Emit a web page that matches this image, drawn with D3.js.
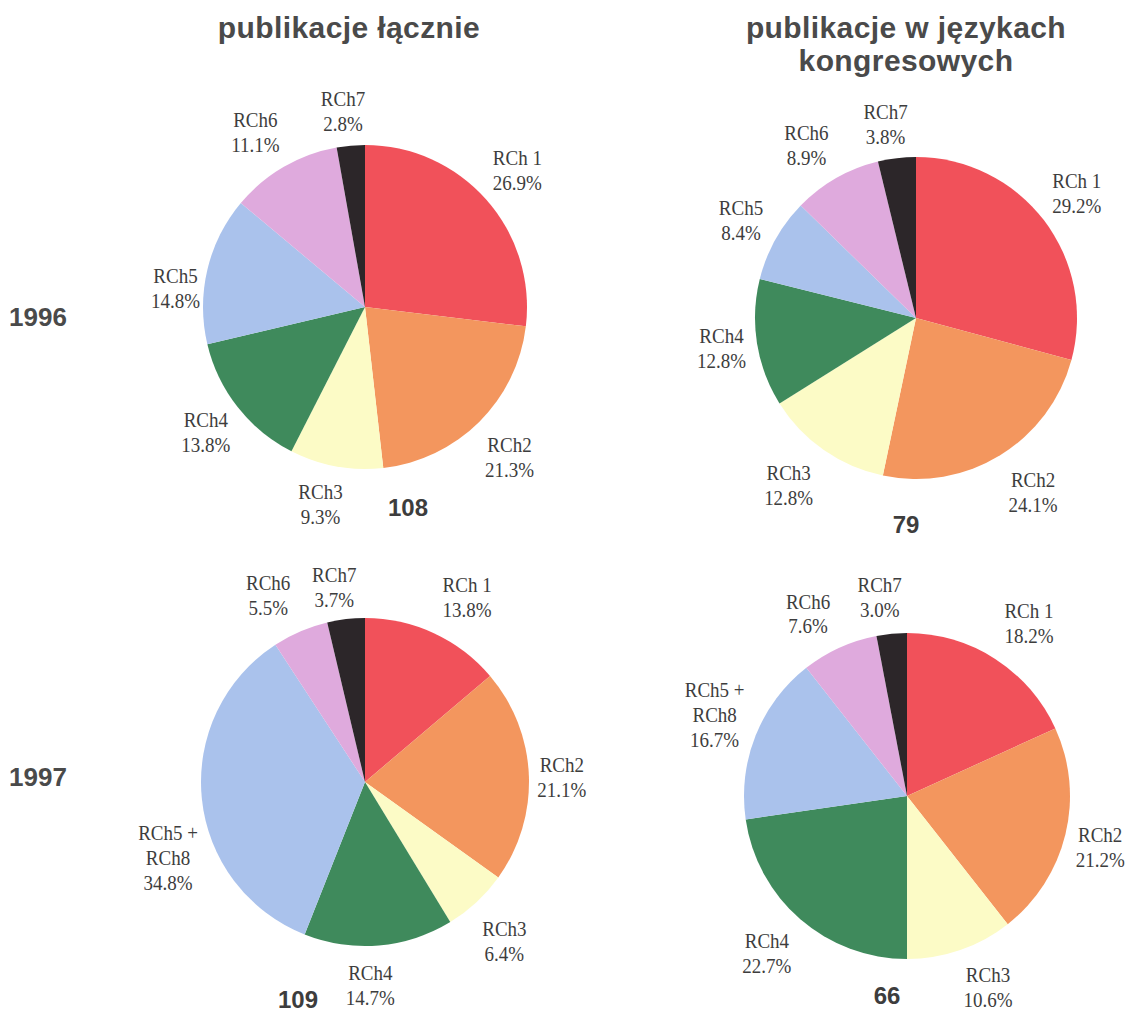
<!DOCTYPE html>
<html>
<head>
<meta charset="utf-8">
<script src="https://cdn.jsdelivr.net/npm/d3@7"></script>
<style>
  html, body { margin: 0; padding: 0; background: #ffffff; }
  svg { display: block; }
</style>
</head>
<body>
<svg id="chart" width="1128" height="1012"></svg>
<script>
// Shares of publications per research group (%), clockwise from 12 o'clock
const groups1996 = [["RCh 1"], ["RCh2"], ["RCh3"], ["RCh4"], ["RCh5"], ["RCh6"], ["RCh7"]];
const groups1997 = [["RCh 1"], ["RCh2"], ["RCh3"], ["RCh4"], ["RCh5 +", "RCh8"], ["RCh6"], ["RCh7"]];
const shares1996All = [26.9, 21.3, 9.3, 13.8, 14.8, 11.1, 2.8];
const shares1996Congress = [29.2, 24.1, 12.8, 12.8, 8.4, 8.9, 3.8];
const shares1997All = [13.8, 21.1, 6.4, 14.7, 34.8, 5.5, 3.7];
const shares1997Congress = [18.2, 21.2, 10.6, 22.7, 16.7, 7.6, 3.0];
const totals = [108, 79, 109, 66];
const columnTitles = [["publikacje łącznie"], ["publikacje w językach", "kongresowych"]];
const years = ["1996", "1997"];

const groupColors = ["#f1515a", "#f3965e", "#fcfbc6", "#3f8a5c", "#aac2ec", "#dfaadd", "#2c2629"];

// Panel layout: pie centre, radius, label nudges and position of the total
const panels = [
  { groups: groups1996, values: shares1996All, total: totals[0], cx: 365, cy: 307, r: 162,
    nudge: [[-1,-1],[0,5],[-8,-5],[2,-2],[10,28],[-7,2],[-4,8]], totalPos: [43, 201] },
  { groups: groups1996, values: shares1996Congress, total: totals[1], cx: 916, cy: 318, r: 161,
    nudge: [[-2,0],[10,-1],[-10,-1],[8,-2],[4,2],[-8,5],[-6,9]], totalPos: [-10, 207] },
  { groups: groups1997, values: shares1997All, total: totals[2], cx: 365, cy: 782, r: 164,
    nudge: [[16,1],[-8,3],[0,9],[-12,-1],[7,55],[-16,1],[-7,9]], totalPos: [-67, 218] },
  { groups: groups1997, values: shares1997Congress, total: totals[3], cx: 907, cy: 796, r: 163,
    nudge: [[11,-1],[-6,2],[14,-3],[-6,2],[-2,-6],[-14,4],[-8,5]], totalPos: [-20, 200] }
];

const svg = d3.select("#chart");
const color = d3.scaleOrdinal().domain(d3.range(7)).range(groupColors);
const pct = v => d3.format(".1f")(v) + "%";
const pie = d3.pie().sort(null).value(d => d.value);
const labelR = 205;
const lineH = 25;

// Column titles
const titleX = [349, 906];
columnTitles.forEach((lines, i) => {
  const t = svg.append("text")
    .attr("x", titleX[i]).attr("y", 38)
    .attr("text-anchor", "middle")
    .attr("font-family", "'Liberation Sans', Arial, sans-serif")
    .attr("font-weight", "bold")
    .attr("font-size", 30)
    .attr("letter-spacing", 0.4)
    .attr("fill", "#4a4a4a");
  lines.forEach((ln, j) => t.append("tspan").attr("x", titleX[i]).attr("dy", j === 0 ? 0 : 33).text(ln));
});

// Row labels (years)
const yearY = [326, 786];
years.forEach((y, i) => {
  svg.append("text")
    .attr("x", 38).attr("y", yearY[i])
    .attr("text-anchor", "middle")
    .attr("font-family", "'Liberation Sans', Arial, sans-serif")
    .attr("font-weight", "bold")
    .attr("font-size", 26)
    .attr("fill", "#4a4a4a")
    .text(y);
});

panels.forEach(p => {
  const data = p.values.map((v, i) => ({ value: v, idx: i, lines: p.groups[i] }));
  const arcs = pie(data);
  const arc = d3.arc().innerRadius(0).outerRadius(p.r);
  const labelArc = d3.arc().innerRadius(labelR).outerRadius(labelR);

  const g = svg.append("g").attr("transform", `translate(${p.cx},${p.cy})`);

  g.selectAll("path.slice")
    .data(arcs)
    .join("path")
    .attr("class", "slice")
    .attr("d", arc)
    .attr("fill", d => color(d.data.idx));

  // Slice labels: group name(s) over the percentage, slightly tall serif
  g.selectAll("g.lbl")
    .data(arcs)
    .join("g")
    .attr("class", "lbl")
    .attr("transform", d => {
      const [x, y] = labelArc.centroid(d);
      const n = p.nudge[d.data.idx];
      return `translate(${x + n[0]},${y + n[1]}) scale(1,1.14)`;
    })
    .each(function (d) {
      const lines = d.data.lines.concat([pct(d.data.value)]);
      const top = -(lines.length - 1) * lineH / 2 / 1.14;
      const t = d3.select(this).append("text")
        .attr("text-anchor", "middle")
        .attr("font-family", "'Liberation Serif', 'Times New Roman', serif")
        .attr("font-size", 19)
        .attr("fill", "#3d3d3d");
      lines.forEach((ln, j) => {
        t.append("tspan")
          .attr("x", 0)
          .attr("y", top + j * lineH / 1.14)
          .attr("dy", "0.35em")
          .text(ln);
      });
    });

  g.append("text")
    .attr("x", p.totalPos[0]).attr("y", p.totalPos[1])
    .attr("dy", "0.35em")
    .attr("text-anchor", "middle")
    .attr("font-family", "'Liberation Sans', Arial, sans-serif")
    .attr("font-weight", "bold")
    .attr("font-size", 24)
    .attr("fill", "#3d3d3d")
    .text(p.total);
});
</script>
</body>
</html>
